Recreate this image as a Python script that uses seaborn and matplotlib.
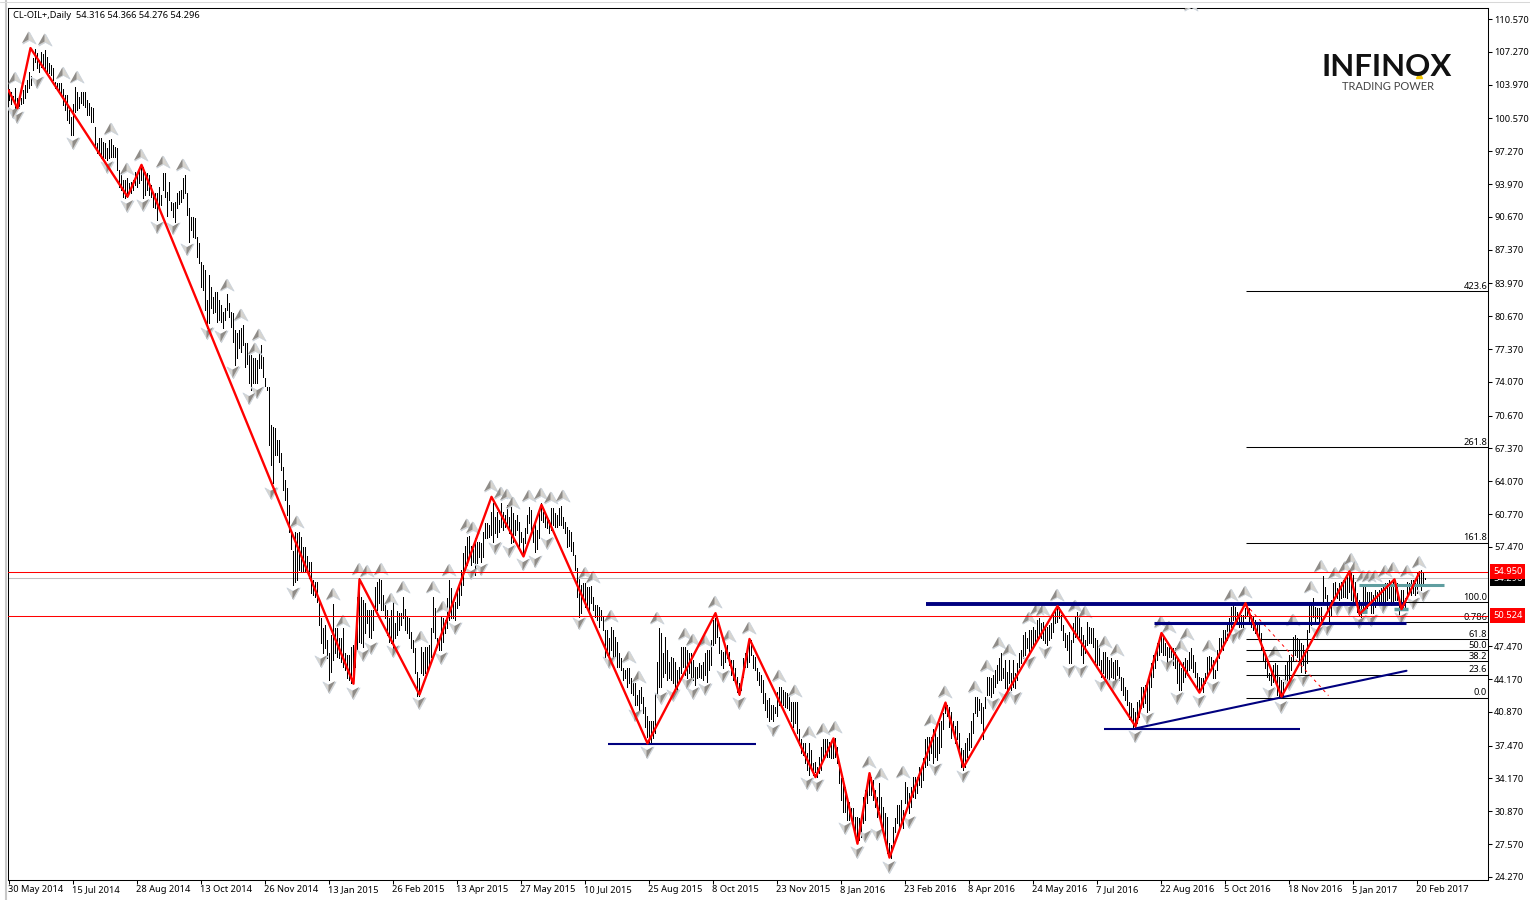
import matplotlib
matplotlib.use('Agg')
import matplotlib.pyplot as plt
import seaborn as sns
from matplotlib.path import Path

# Daily bar highs and lows, one line per date label interval
highs = [
    103.5,103.2,102.8,103.6,102.6,102.4,102.6,103.4,103.9,104.4,105.2,104.8,106.6,107.6,107.2,106.4,
    107.3,107.1,107.5,106.7,106.1,105.9,105.6,104.2,104.1,104.1,104.1,103.5,102.9,102.9,101.4,100.7,
    102.0,103.7,103.2,102.7,103.2,103.2,103.2,102.4,102.1,101.7,101.6,99.7,98.1,98.6,98.6,98.2,
    98.1,97.6,98.4,98.5,97.9,97.7,97.6,95.4,95.1,94.4,94.4,94.6,94.1,94.2,94.4,95.2,
    95.2,95.6,95.9,95.7,95.2,95.1,94.9,93.9,93.1,93.1,93.1,93.7,92.9,95.1,95.1,93.2,
    94.2,92.2,92.1,92.2,93.1,93.3,93.4,94.6,94.9,93.1,91.6,90.7,90.7,90.6,88.6,88.0,
    86.1,85.8,85.3,82.3,84.8,83.6,82.6,83.1,83.1,82.3,81.8,81.1,81.5,82.9,82.0,81.1,
    81.0,79.3,79.0,79.3,79.5,79.8,78.0,78.0,77.1,76.8,76.5,76.5,76.3,77.1,77.8,76.6,
    74.5,73.5,73.5,69.7,69.5,69.4,68.2,68.2,66.9,65.5,64.2,63.4,61.7,59.2,57.1,59.0,
    58.9,59.0,58.5,57.5,57.5,56.5,55.9,55.9,54.1,53.9,53.9,52.1,50.3,49.3,49.6,48.1,
    46.8,48.6,51.7,49.3,49.3,48.3,48.3,49.3,46.8,46.6,46.6,47.4,47.6,47.4,52.4,54.3,
    52.4,52.1,51.8,51.1,51.1,51.1,51.1,53.4,53.9,54.2,54.1,52.6,51.8,51.1,50.3,51.1,
    52.4,49.8,51.0,50.8,50.8,52.4,51.2,50.4,50.3,48.9,48.1,47.3,44.9,44.3,47.4,46.9,
    47.4,47.4,47.6,49.3,52.4,51.3,48.3,48.2,50.4,50.3,50.1,52.3,54.1,53.3,51.8,51.9,
    53.1,53.6,55.1,56.8,57.6,58.5,58.6,57.6,57.3,58.4,58.0,58.0,57.9,59.0,59.9,59.9,
    59.7,61.0,61.9,60.5,61.0,60.2,61.9,61.0,60.7,61.7,60.5,61.5,60.9,60.2,60.7,60.0,
    59.0,58.4,59.4,60.7,61.5,61.2,59.7,60.0,59.2,61.0,61.9,61.0,60.9,60.4,60.2,61.4,
    61.4,60.9,60.7,61.4,61.6,60.5,60.0,59.5,59.2,59.0,58.0,56.6,55.3,54.3,53.6,53.8,
    53.8,53.4,53.4,53.5,52.4,51.6,51.6,51.4,51.1,50.4,49.1,49.1,48.3,49.4,49.1,48.4,
    47.9,46.8,46.3,45.3,45.1,45.3,45.3,44.3,43.8,43.8,42.6,43.1,43.4,42.4,41.4,40.4,
    39.9,39.9,39.9,42.8,45.9,49.3,48.8,46.8,48.4,47.1,45.9,46.4,46.3,45.9,45.1,45.4,
    47.4,47.4,47.4,47.1,46.8,46.8,46.1,45.4,45.4,45.8,45.6,45.9,46.8,47.1,47.1,48.1,
    50.1,50.3,50.1,48.4,47.1,46.9,47.3,47.6,46.9,46.1,46.1,45.3,44.4,43.8,43.9,46.3,
    46.8,47.3,48.1,48.1,46.6,46.4,45.3,44.9,44.6,44.1,42.8,42.1,42.3,41.6,41.6,41.4,
    42.9,43.4,43.4,43.1,42.9,42.8,42.4,41.9,41.9,41.9,41.9,39.1,38.1,37.7,37.7,36.7,
    37.7,37.0,35.7,35.8,35.3,36.3,37.3,38.1,38.1,38.1,37.8,37.7,38.2,38.2,37.3,35.7,
    34.2,34.2,33.3,32.3,31.8,31.2,31.2,30.3,30.3,30.2,30.3,32.3,33.0,33.7,34.7,34.3,
    34.0,33.0,32.3,33.7,32.3,31.3,30.7,30.3,27.7,27.5,29.3,30.2,31.5,31.5,32.0,31.0,
    33.8,33.3,32.7,33.3,34.3,34.3,34.3,35.3,35.0,36.2,38.1,38.3,38.3,38.3,39.1,39.1,
    38.3,39.7,39.9,40.8,41.8,41.6,41.4,40.9,39.9,39.4,39.9,38.7,37.2,37.0,37.7,38.2,
    38.7,39.9,40.8,42.4,42.4,42.2,41.8,41.4,42.4,44.4,44.4,44.3,44.6,45.1,45.6,46.3,
    46.8,45.3,46.1,44.9,46.1,44.8,46.1,44.8,45.8,46.8,47.1,48.6,48.9,48.3,49.1,49.1,
    49.4,49.1,50.1,50.3,49.8,49.9,49.4,49.4,49.6,49.8,50.6,51.3,51.4,51.4,50.6,49.6,
    48.8,48.6,48.9,48.1,49.8,50.4,50.9,50.4,49.4,48.6,48.1,49.9,49.4,49.3,49.3,48.3,
    48.1,47.4,46.1,46.9,46.9,46.4,46.1,46.3,45.9,46.1,46.1,45.4,44.4,44.3,43.4,43.1,
    41.9,41.8,41.3,40.9,41.9,42.1,43.4,43.4,43.6,43.9,44.4,45.8,46.6,46.8,47.8,48.4,
    48.9,48.6,47.8,47.4,47.6,47.4,47.3,47.3,46.3,46.1,45.3,45.9,46.3,46.1,46.9,47.3,
    46.6,45.9,44.8,44.4,44.3,44.3,44.8,46.4,46.5,46.4,46.1,45.1,47.1,48.3,48.3,49.1,
    49.1,49.8,50.3,51.4,51.6,51.4,50.9,50.8,50.6,50.6,51.3,51.4,51.3,50.6,50.4,50.1,
    49.9,49.6,48.8,47.4,46.8,46.1,44.8,44.9,45.6,45.8,45.6,44.4,44.1,43.9,45.6,45.9,
    46.6,46.4,48.4,48.6,48.3,48.1,47.8,47.6,47.1,49.1,51.8,51.9,52.3,51.4,51.3,51.3,
    51.4,54.5,53.4,52.6,51.6,52.1,53.8,53.9,53.3,53.8,53.9,54.1,54.3,54.4,54.9,54.9,
    54.6,53.9,52.8,52.1,51.9,53.4,53.4,52.9,52.9,52.9,52.6,53.1,52.9,53.1,53.3,53.4,
    53.8,53.8,54.1,53.6,54.1,54.1,53.8,52.3,53.1,53.1,52.3,53.9,53.8,54.1,54.1,53.8,
    54.9,55.0,55.1,54.8,54.3,
]
lows = [
    102.4,102.0,102.4,101.6,101.8,101.6,102.0,102.1,102.6,103.2,103.6,103.9,105.4,106.2,105.6,105.2,
    105.7,105.6,105.4,105.2,105.1,104.9,104.4,103.6,103.4,103.1,102.9,101.9,101.4,100.4,100.1,98.9,
    98.9,101.2,101.4,101.6,102.1,101.9,101.7,100.9,100.9,100.2,100.2,97.6,97.1,96.9,96.6,96.4,
    96.6,96.4,96.6,96.7,96.7,96.7,95.4,93.7,93.4,92.7,92.6,92.7,93.1,93.1,93.4,93.9,
    93.7,94.1,94.4,92.6,92.9,93.4,92.9,92.7,91.7,91.6,90.4,91.6,91.9,93.4,92.7,90.8,
    92.4,91.4,90.7,90.1,91.6,92.0,92.2,92.6,93.1,90.9,88.1,89.3,88.6,88.5,86.6,86.0,
    83.6,83.3,81.3,79.5,80.0,81.5,81.0,81.1,80.1,80.3,80.1,79.5,80.3,81.3,80.6,79.6,
    78.1,75.8,76.5,77.5,77.1,77.8,75.6,75.9,74.0,73.2,74.0,74.0,74.0,75.5,75.5,74.6,
    73.7,73.2,67.7,65.7,63.9,66.7,66.7,66.0,65.2,63.2,62.2,60.7,59.0,57.3,53.6,53.9,
    54.1,55.1,54.9,54.9,54.9,54.9,54.3,52.8,52.6,52.4,51.9,49.6,47.8,46.8,47.3,46.3,
    44.1,44.9,46.1,46.8,46.4,46.3,45.9,45.4,45.1,44.3,44.1,43.8,44.3,45.4,47.1,47.9,
    47.8,47.4,48.8,49.8,48.4,48.3,49.1,51.1,51.1,51.8,51.1,51.1,50.3,48.6,47.9,47.8,
    46.9,48.3,48.6,49.1,49.6,50.3,49.1,48.8,48.3,47.3,46.9,44.8,42.5,42.5,44.8,44.6,
    44.8,44.8,45.4,46.4,48.9,48.3,47.4,47.1,47.1,47.9,48.8,49.3,50.1,50.3,50.3,50.1,
    51.3,51.6,52.6,53.6,55.1,55.6,56.4,55.6,55.9,54.6,55.8,56.4,55.9,56.4,58.4,58.4,
    58.5,58.7,58.0,58.9,58.5,59.0,59.5,59.2,59.5,59.5,58.9,57.9,58.0,58.7,59.2,57.3,
    58.0,56.6,57.9,58.9,59.9,59.2,58.0,56.9,57.3,58.4,60.2,60.0,59.5,59.4,58.9,59.2,
    59.7,59.5,59.5,59.7,59.7,59.4,58.9,57.5,57.6,57.1,56.6,55.1,52.4,50.4,50.8,52.4,
    51.4,51.6,51.1,51.8,51.1,50.4,50.1,49.4,50.1,49.1,46.4,46.6,46.3,47.1,46.4,46.4,
    45.4,45.4,45.1,44.1,44.3,43.4,43.8,42.8,42.6,41.6,41.6,40.8,41.8,40.8,39.3,38.3,
    37.7,37.8,38.2,38.7,42.4,43.4,43.4,44.4,44.8,44.1,44.3,44.1,43.8,43.4,43.1,44.1,
    44.8,45.4,44.6,44.3,44.8,44.4,44.1,43.6,44.3,44.4,44.3,44.1,44.6,43.9,45.1,45.6,
    47.6,47.8,48.4,46.8,45.6,45.3,45.9,46.3,45.6,44.6,44.1,44.3,42.9,42.6,43.1,44.4,
    45.4,45.4,45.9,46.6,45.3,45.1,44.1,43.6,42.9,41.8,41.1,40.3,39.9,40.1,39.9,40.8,
    40.4,41.6,41.8,41.6,41.4,41.3,41.1,39.9,39.3,39.7,38.7,37.5,36.7,36.5,35.7,35.0,
    34.5,35.3,34.5,34.8,34.3,34.7,35.0,36.3,36.3,36.3,36.3,36.2,36.2,36.3,35.7,33.7,
    32.0,30.8,30.8,30.0,30.0,30.0,29.2,28.3,27.7,28.0,28.3,29.7,30.0,31.7,32.5,32.5,
    32.0,31.3,30.3,31.0,30.0,28.7,28.2,26.7,26.3,26.2,27.7,28.8,29.7,29.3,29.7,29.2,
    31.7,31.3,30.7,31.3,32.3,32.2,32.7,33.5,33.3,34.0,35.3,35.5,36.0,36.7,35.7,36.3,
    36.0,36.7,37.3,39.1,40.8,40.4,39.3,38.2,38.7,37.7,38.1,36.7,35.3,35.0,35.3,36.3,
    37.0,37.3,38.7,40.8,40.4,41.1,39.7,38.1,41.3,42.6,42.6,42.4,42.8,43.4,43.8,44.1,
    44.1,44.3,43.3,42.9,43.8,43.1,43.4,43.3,44.1,45.4,45.8,46.3,46.6,47.3,46.6,47.1,
    47.3,47.8,48.1,48.3,48.3,48.1,47.8,47.6,48.1,48.3,48.9,49.8,49.9,50.3,49.1,48.1,
    47.4,47.1,45.8,45.8,47.9,48.4,48.3,48.4,46.6,45.8,46.8,47.6,47.8,47.8,47.4,45.9,
    45.6,45.6,44.4,44.8,44.4,44.3,44.1,44.4,44.3,43.9,44.6,44.1,43.1,42.6,42.1,41.6,
    40.1,39.9,39.3,39.3,39.7,40.3,41.3,41.4,41.8,40.9,41.1,43.4,44.4,45.3,46.1,46.6,
    46.9,46.6,46.6,45.9,46.4,46.4,45.6,45.3,43.8,43.1,43.1,43.9,44.4,44.6,45.1,45.3,
    44.9,44.4,43.4,43.1,43.4,42.9,43.8,44.4,44.8,45.1,44.3,44.3,45.1,46.3,47.1,47.1,
    47.8,48.1,48.6,49.4,50.1,49.9,49.8,49.4,49.4,49.4,50.3,50.6,49.9,49.4,49.1,48.8,
    48.6,48.1,47.1,46.1,45.3,44.4,44.1,43.6,43.9,43.9,42.6,42.4,42.4,42.4,43.8,43.9,
    43.9,45.1,46.1,46.6,46.4,46.1,44.9,45.6,44.8,45.8,48.9,49.6,50.4,49.9,50.3,49.4,
    49.6,51.9,52.3,51.1,49.9,50.6,52.3,52.4,52.3,52.1,52.3,52.4,52.4,52.3,52.9,52.1,
    51.9,51.9,50.9,50.6,50.4,50.8,51.4,51.3,51.6,50.8,50.8,51.4,51.8,51.6,51.6,51.9,
    51.4,52.1,52.3,51.6,51.8,52.1,52.1,50.4,51.1,51.1,51.3,52.3,52.8,52.6,52.8,52.6,
    52.8,53.6,53.1,53.6,54.2,
]

# Zigzag turning points
zigzag_bar = [0,4.5,11,59.5,66.5,172.5,175.5,205.5,241.5,257.5,266.5,319.5,353.5,365.5,370.5,403.5,412.5,
              424.5,430.5,440.5,468.5,477.5,524.5,563.5,576.5,595.5,618.5,636.5,670.5,675.5,693,696.5,705.5]
zigzag_price = [103.4,101.6,107.65,92.7,95.9,43.7,54.2,42.6,62.5,56.5,61.7,37.7,50.8,42.6,48.2,34.3,38.2,
                27.6,34.7,26.2,41.8,35.3,51.5,39.4,48.8,42.8,51.8,42.4,55.0,50.7,54.2,51.2,54.9]

# Fractal arrows
up_bar = [10,18,3,27,34,51,59,66,77,87,109,116,125,123,144,162,167,175,179,186,191,197,212,206,217,220,229,232,
          241,246,249,252,260,266,271,277,288,292,301,310,315,324,338,342,348,353,360,370,385,393,400,407,413,
          430,436,447,461,468,483,489,495,500,510,514,517,524,533,538,548,554,576,580,586,589,600,611,618,633,
          642,651,656,663,668,671,673,677,680,683,688,692,699,705,591]
up_price = [108.7,108.5,104.6,105.1,104.7,99.5,95.5,96.9,96.2,95.9,83.8,80.8,78.8,77.4,60.0,52.7,50.0,55.2,55.0,
            55.2,52.2,53.4,53.4,48.4,51.4,55.1,59.7,59.4,63.6,62.9,62.7,61.9,62.6,62.8,62.4,62.6,54.8,54.4,50.5,
            46.4,44.4,50.3,48.7,48.1,48.0,51.9,48.5,49.3,44.5,43.0,38.8,39.1,39.3,35.8,34.6,34.8,40.0,42.9,43.4,
            45.5,47.8,47.1,50.3,51.2,51.1,52.6,51.5,50.9,47.9,47.1,49.9,49.4,47.5,48.7,47.5,52.6,52.9,46.9,50.1,
            53.4,55.5,54.8,55.4,56.2,55.4,54.5,54.5,54.5,55.0,55.3,55.0,55.9,112.0]
down_bar = [2,4,14,32,49,59,67,74,82,89,99,106,112,120,124,131,142,156,160,172,177,181,192,205,216,223,231,236,
            243,250,257,263,269,285,300,313,319,326,332,339,342,348,357,365,382,399,404,418,424,428,434,440,450,
            463,477,492,498,503,510,518,530,536,546,552,563,569,579,584,595,602,612,615,630,636,640,647,654,659,
            664,670,675,681,687,696,702,707]
down_price = [101.2,100.7,104.2,98.1,95.7,91.8,91.9,89.6,89.5,87.4,79.0,78.7,75.1,72.4,73.0,62.9,52.8,46.0,43.4,
              42.8,46.6,47.3,47.0,41.8,46.3,49.3,54.8,55.2,57.4,57.1,55.7,56.0,57.9,49.8,45.9,40.5,36.8,42.3,42.6,
              43.8,42.8,43.2,44.5,41.8,39.0,33.7,33.5,29.2,26.8,28.4,28.6,25.3,29.8,35.1,34.4,41.7,42.4,42.3,45.9,
              46.9,45.0,45.0,43.6,43.7,38.4,40.2,45.6,42.3,42.0,43.4,48.4,48.8,42.8,41.4,43.7,44.1,48.9,49.2,51.2,
              51.2,49.9,50.1,51.4,50.3,51.8,52.6]

# Fibonacci levels
fib_names = ['423.6','261.8','161.8','100.0','0.786','61.8','50.0','38.2','23.6','0.0']
fib_prices = [83.2,67.5,57.9,51.9,49.9,48.2,47.1,46.0,44.6,42.3]

# Axis labels
date_labels = ['30 May 2014','15 Jul 2014','28 Aug 2014','13 Oct 2014','26 Nov 2014','13 Jan 2015','26 Feb 2015',
               '13 Apr 2015','27 May 2015','10 Jul 2015','25 Aug 2015','8 Oct 2015','23 Nov 2015','8 Jan 2016',
               '23 Feb 2016','8 Apr 2016','24 May 2016','7 Jul 2016','22 Aug 2016','5 Oct 2016','18 Nov 2016',
               '5 Jan 2017','20 Feb 2017']
price_ticks = [110.57,107.27,103.97,100.57,97.27,93.97,90.67,87.37,83.97,80.67,77.37,74.07,70.67,67.37,64.07,
               60.77,57.47,47.47,44.17,40.87,37.47,34.17,30.87,27.57,24.27]

sns.set_style('white')
plt.rcParams['font.family'] = ['Noto Sans', 'DejaVu Sans']
FS = 6.7

fig = plt.figure(figsize=(15.3, 9), dpi=100)
ax = fig.add_axes([8 / 1530, 20 / 900, 1480 / 1530, 872 / 900])
ax.set_xlim(-0.25, 739.75)
ax.set_ylim(23.95, 111.68)

# Price bars
bars = list(range(len(highs)))
ax.vlines(bars, lows, highs, color='black', linewidth=0.5, antialiased=False, snap=True, zorder=2)

# Fractal arrow shapes, notch at the tail, darker half on top
up_arrow = Path([(0, 0.95), (1, -0.85), (0, -0.3), (-1, -0.85), (0, 0.95)],
                [Path.MOVETO, Path.LINETO, Path.LINETO, Path.LINETO, Path.CLOSEPOLY])
down_arrow = Path([(0, -0.95), (1, 0.85), (0, 0.3), (-1, 0.85), (0, -0.95)],
                  [Path.MOVETO, Path.LINETO, Path.LINETO, Path.LINETO, Path.CLOSEPOLY])
up_fin = Path([(0, 0.95), (0, -0.3), (-1, -0.85), (1, -1), (0, 0.95)],
              [Path.MOVETO, Path.LINETO, Path.LINETO, Path.MOVETO, Path.LINETO])
down_fin = Path([(0, -0.95), (0, 0.3), (1, 0.85), (-1, 1), (0, -0.95)],
                [Path.MOVETO, Path.LINETO, Path.LINETO, Path.MOVETO, Path.LINETO])
sns.scatterplot(x=up_bar, y=up_price, marker=up_arrow, s=90, color='#d6d4cf', edgecolor='#c9d2dc',
                linewidth=0.5, ax=ax, zorder=3, legend=False)
sns.scatterplot(x=down_bar, y=down_price, marker=down_arrow, s=90, color='#d6d4cf', edgecolor='#c9d2dc',
                linewidth=0.5, ax=ax, zorder=3, legend=False)
sns.scatterplot(x=up_bar, y=up_price, marker=up_fin, s=90, color='#8f8c88', edgecolor='none',
                linewidth=0, ax=ax, zorder=3.1, legend=False)
sns.scatterplot(x=down_bar, y=down_price, marker=down_fin, s=90, color='#8f8c88', edgecolor='none',
                linewidth=0, ax=ax, zorder=3.1, legend=False)

# Fibonacci levels
ax.hlines(fib_prices, 618.5, 739.5, color='black', linewidth=0.75, zorder=4)
for name, price in zip(fib_names, fib_prices):
    ax.annotate(name, (739.3, price), xytext=(0, 0.2), textcoords='offset points', ha='right', va='bottom',
                fontsize=FS, color='black', zorder=4)
ax.plot([618.5, 660], [51.7, 42.5], color='red', linewidth=0.7, linestyle=(0, (3, 4)), zorder=5)

# Support and trend lines
ax.hlines(51.7, 458.5, 698.5, color='#00007f', linewidth=2.8, zorder=5)
ax.hlines(49.8, 572.5, 698.5, color='#00007f', linewidth=2.2, zorder=5)
ax.hlines(37.6, 299.5, 373.5, color='#00007f', linewidth=1.5, zorder=5)
ax.hlines(39.1, 547.5, 645.5, color='#00007f', linewidth=1.5, zorder=5)
ax.plot([563.5, 699], [39.2, 45.0], color='#00007f', linewidth=1.5, zorder=5)
ax.hlines(53.6, 675, 717.5, color='#5f9ea0', linewidth=2.2, zorder=5)
ax.hlines(51.0, 674.5, 679, color='#5f9ea0', linewidth=3.5, zorder=5)
ax.hlines(51.2, 692.5, 699.5, color='#5f9ea0', linewidth=2.5, zorder=5)

# Horizontal price levels
ax.axhline(54.296, color='#c0c0c0', linewidth=0.75, zorder=1)
ax.axhline(54.95, color='red', linewidth=0.75, zorder=6)
ax.axhline(50.524, color='red', linewidth=0.75, zorder=6)

# Zigzag
sns.lineplot(x=zigzag_bar, y=zigzag_price, sort=False, estimator=None, color='red', linewidth=1.7, ax=ax, zorder=7)

# Axes styling, MT4 style ticks
for spine in ax.spines.values():
    spine.set_visible(True)
    spine.set_color('black')
    spine.set_linewidth(0.75)
ax.yaxis.tick_right()
ax.set_yticks(price_ticks)
ax.set_yticklabels([f'{p:.3f}' for p in price_ticks], fontsize=FS, color='black')
ax.set_xticks(range(0, 32 * len(date_labels), 32))
ax.set_xticklabels(date_labels, fontsize=FS, color='black', ha='left')
ax.tick_params(axis='y', length=3, width=0.75, color='black', pad=1.5, right=True)
ax.tick_params(axis='x', length=3, width=0.75, color='black', pad=0.7, bottom=True)

# Price boxes on the scale
ybox = ax.get_yaxis_transform()
ax.text(1.0034, 54.296, '54.296', transform=ybox, color='white', fontsize=FS, va='center', ha='left',
        bbox=dict(facecolor='black', edgecolor='none', pad=2.2), zorder=8, clip_on=False)
ax.text(1.0034, 54.95, '54.950', transform=ybox, color='white', fontsize=FS, va='center', ha='left',
        bbox=dict(facecolor='red', edgecolor='none', pad=2.2), zorder=9, clip_on=False)
ax.text(1.0034, 50.524, '50.524', transform=ybox, color='white', fontsize=FS, va='center', ha='left',
        bbox=dict(facecolor='red', edgecolor='none', pad=2.2), zorder=9, clip_on=False)

# Header and logo
ax.text(5 / 1480, 1 - 7 / 872, 'CL-OIL+,Daily  54.316 54.366 54.276 54.296', transform=ax.transAxes,
        fontsize=FS, va='center', ha='left', color='black')
fig.text(1387 / 1530, 1 - 67 / 900, 'INFINOX', fontsize=22.5, fontweight='bold', family='Lato', color='#111111',
         ha='center', va='center')
fig.text(1388 / 1530, 1 - 87 / 900, 'TRADING POWER', fontsize=8, family='Lato', color='#444444',
         ha='center', va='center')
ax.plot([1419 / 1530], [1 - 76 / 900], marker='o', markersize=6, color='white', linestyle='none',
        transform=fig.transFigure, clip_on=False, zorder=10)
ax.plot([1419 / 1530], [1 - 74.5 / 900], marker='^', markersize=4, color='#f5c800', linestyle='none',
        transform=fig.transFigure, clip_on=False, zorder=11)

# Window edge
fig.add_artist(plt.Line2D([6 / 1530, 6 / 1530], [0, 1], color='#c8c8c8', linewidth=1.5))
fig.add_artist(plt.Line2D([0, 1], [1 - 2 / 900, 1 - 2 / 900], color='#d8d8d8', linewidth=0.75))

fig.savefig('out.png', dpi=100)
